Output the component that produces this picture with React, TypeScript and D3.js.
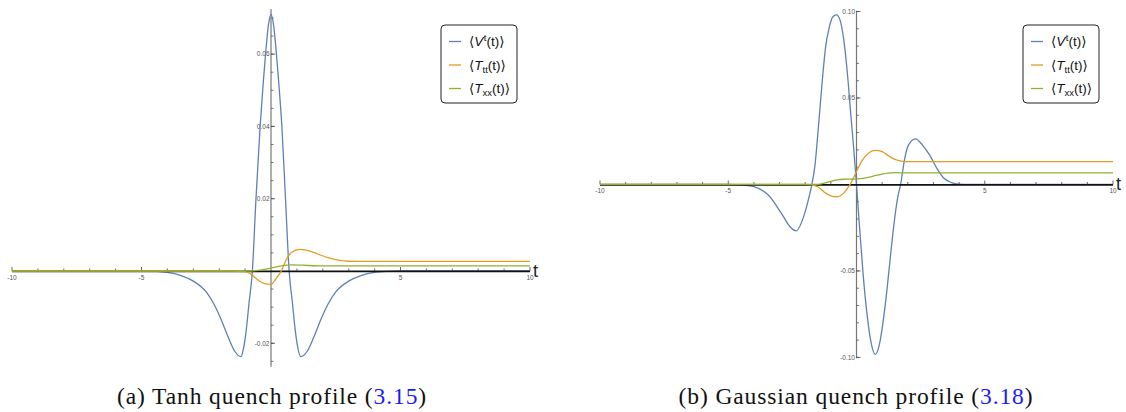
import { useRef, useEffect } from "react"
import * as d3 from "d3"

// (a) tanh quench, values as [t, value]
const tanhV = [
  [-10, 0], [-5, 0], [-4.5, -0.0001], [-4, -0.0004], [-3.5, -0.0012], [-3, -0.0028],
  [-2.5, -0.0058], [-2.2, -0.0092], [-1.95, -0.013], [-1.67, -0.018], [-1.4, -0.0222],
  [-1.17, -0.0237], [-1.05, -0.021], [-0.95, -0.016], [-0.85, -0.009], [-0.72, 0],
  [-0.58, 0.02], [-0.42, 0.04], [-0.3, 0.052], [-0.21, 0.06], [-0.1, 0.068], [0, 0.071],
  [0.1, 0.068], [0.21, 0.06], [0.3, 0.052], [0.42, 0.04], [0.56, 0.02], [0.7, 0],
  [0.83, -0.009], [0.93, -0.016], [1.03, -0.021], [1.15, -0.0237], [1.4, -0.0222],
  [1.67, -0.018], [1.95, -0.013], [2.2, -0.0092], [2.5, -0.0058], [3, -0.0028],
  [3.5, -0.0012], [4, -0.0004], [4.5, -0.0001], [5, 0], [10, 0],
]
const tanhTtt = [
  [-10, 0], [-1.5, 0], [-1, -0.0002], [-0.75, -0.001], [-0.5, -0.0025], [-0.25, -0.0035],
  [0, -0.0037], [0.2, -0.002], [0.4, 0], [0.6, 0.0033], [0.8, 0.0052], [1.1, 0.006],
  [1.4, 0.0057], [1.8, 0.0047], [2.2, 0.0037], [2.6, 0.003], [3, 0.0027], [3.5, 0.00265],
  [10, 0.00265],
]
const tanhTxx = [
  [-10, 0], [-1, 0], [-0.5, 0.0002], [0, 0.0008], [0.4, 0.0014], [0.8, 0.0017],
  [1.2, 0.0016], [2, 0.0014], [10, 0.0014],
]

// (b) gaussian quench
const gaussV = [
  [-10, 0], [-5, 0], [-4.5, -0.0002], [-4, -0.0013], [-3.45, -0.006], [-2.89, -0.0176],
  [-2.6, -0.0243], [-2.35, -0.0268], [-2.04, -0.0176], [-1.83, -0.006], [-1.74, 0],
  [-1.62, 0.011], [-1.48, 0.034], [-1.34, 0.059], [-1.2, 0.08], [-1.06, 0.091],
  [-0.92, 0.097], [-0.78, 0.098], [-0.64, 0.095], [-0.5, 0.084], [-0.36, 0.065],
  [-0.22, 0.04], [-0.11, 0.021], [0, 0], [0.13, -0.027], [0.27, -0.054], [0.41, -0.075],
  [0.55, -0.09], [0.73, -0.0983], [0.9, -0.092], [1.04, -0.079], [1.18, -0.062],
  [1.32, -0.042], [1.46, -0.023], [1.6, -0.008], [1.72, 0], [1.88, 0.015], [2.02, 0.0226],
  [2.3, 0.0264], [2.58, 0.0226], [2.86, 0.0168], [3.14, 0.0092], [3.42, 0.0034],
  [3.7, 0.0011], [3.98, 0.0002], [4.5, 0], [10, 0],
]
const gaussTtt = [
  [-10, 0], [-2, 0], [-1.75, -0.0002], [-1.5, -0.0015], [-1.25, -0.0045], [-1, -0.0066],
  [-0.76, -0.0071], [-0.5, -0.005], [-0.25, 0], [0, 0.0075], [0.25, 0.0145], [0.5, 0.0185],
  [0.73, 0.0197], [1, 0.019], [1.25, 0.0165], [1.5, 0.0145], [1.75, 0.0135], [2, 0.0132],
  [10, 0.0132],
]
const gaussTxx = [
  [-10, 0], [-1.75, 0], [-1.5, 0.0001], [-1.25, 0.0008], [-1, 0.0018], [-0.75, 0.0026],
  [-0.5, 0.003], [-0.25, 0.0031], [0, 0.0032], [0.25, 0.0035], [0.5, 0.0042],
  [0.75, 0.0052], [1, 0.006], [1.25, 0.0066], [1.5, 0.0068], [2, 0.0067], [10, 0.0067],
]

const xTicks = [-10, -5, 5, 10]
const tanhYTicks = [-0.02, 0.02, 0.04, 0.06]
const tanhYLabels = ["-0.02", "0.02", "0.04", "0.06"]
const gaussYTicks = [-0.1, -0.05, 0.05, 0.1]
const gaussYLabels = ["-0.10", "-0.05", "0.05", "0.10"]

const colors = ["#5E81B5", "#E19C24", "#8FB032"]

function Panel({ g, series, xRange, yDomain, yRange, yAxisEnds, yTicks, yLabels, yMinor, legendX }) {
  const x = d3.scaleLinear().domain([-10, 10]).range(xRange)
  const y = d3.scaleLinear().domain(yDomain).range(yRange)
  const y0 = y(0)
  const x0 = x(0)
  const line = d3.line().x(d => x(d[0])).y(d => y(d[1])).curve(d3.curveMonotoneX)
  const drawCurve = i => g.append("path").attr("d", line(series[i]))
    .attr("fill", "none").attr("stroke", colors[i]).attr("stroke-width", 1.3)

  // y axis
  g.append("line").attr("x1", x0).attr("x2", x0)
    .attr("y1", y(yAxisEnds[0])).attr("y2", y(yAxisEnds[1]))
    .attr("stroke", "#777").attr("stroke-width", 1.2)
  const minor = d3.range(Math.ceil(yAxisEnds[0] / yMinor), Math.floor(yAxisEnds[1] / yMinor) + 1).map(k => k * yMinor)
  g.selectAll(null).data(minor.filter(v => Math.abs(v) > 1e-9)).enter().append("line")
    .attr("x1", x0).attr("x2", x0 + 2.5)
    .attr("y1", d => y(d)).attr("y2", d => y(d))
    .attr("stroke", "#555").attr("stroke-width", 0.8)
  g.selectAll(null).data(yTicks).enter().append("line")
    .attr("x1", x0).attr("x2", x0 + 4)
    .attr("y1", d => y(d)).attr("y2", d => y(d))
    .attr("stroke", "#444").attr("stroke-width", 0.8)
  g.selectAll(null).data(yTicks).enter().append("text")
    .attr("x", x0 - 1.5).attr("y", d => y(d) + 2.3)
    .attr("text-anchor", "end")
    .style("font", "6.5px 'Liberation Sans', sans-serif").style("fill", "#555")
    .text((d, i) => yLabels[i])

  // blue under the x axis, the others on top of it
  drawCurve(0)

  // x axis
  g.append("line").attr("x1", x(-10)).attr("x2", x(10))
    .attr("y1", y0 + 0.4).attr("y2", y0 + 0.4)
    .attr("stroke", "#111").attr("stroke-width", 1.8)
  g.selectAll(null).data(d3.range(-10, 11).filter(v => v !== 0)).enter().append("line")
    .attr("x1", d => x(d)).attr("x2", d => x(d))
    .attr("y1", y0).attr("y2", d => y0 - (d % 5 === 0 ? 4 : 2.5))
    .attr("stroke", "#444").attr("stroke-width", 0.8)
  g.selectAll(null).data(xTicks).enter().append("text")
    .attr("x", d => x(d)).attr("y", y0 + 9)
    .attr("text-anchor", "middle")
    .style("font", "6.5px 'Liberation Sans', sans-serif").style("fill", "#555")
    .text(d => d)
  g.append("text").attr("x", x(10) + 3).attr("y", y0 + 6)
    .style("font", "18px 'Liberation Sans', sans-serif").style("fill", "#222")
    .text("t")

  drawCurve(1)
  drawCurve(2)

  // legend
  const lg = g.append("g").attr("transform", `translate(${legendX}, 25)`)
  lg.append("rect").attr("width", 76).attr("height", 78).attr("rx", 4)
    .attr("fill", "white").attr("stroke", "#222").attr("stroke-width", 1)
  const entries = [["V", "t", -5.5], ["T", "tt", 3], ["T", "xx", 3]]
  entries.forEach((e, i) => {
    const yy = 16.5 + i * 23.5
    lg.append("line").attr("x1", 8).attr("x2", 20).attr("y1", yy).attr("y2", yy)
      .attr("stroke", colors[i]).attr("stroke-width", 1.3)
    const t = lg.append("text").attr("x", 28).attr("y", yy + 4.8)
      .style("font", "13.5px 'Liberation Sans', 'DejaVu Sans', sans-serif").style("fill", "#111")
    t.append("tspan").text("\u27E8")
    t.append("tspan").style("font-style", "italic").text(e[0])
    t.append("tspan").attr("dx", i === 0 ? 0.5 : 0).attr("dy", e[2]).style("font-size", "9.5px").text(e[1])
    t.append("tspan").attr("dy", -e[2]).text("(t)\u27E9")
  })
}

export default function App() {
  const svgRef = useRef()
  useEffect(() => {
    const svg = d3.select(svgRef.current)
    svg.selectAll("*").remove()
    svg.attr("width", 1126).attr("height", 412).style("background", "white")

    Panel({
      g: svg.append("g"), series: [tanhV, tanhTtt, tanhTxx],
      xRange: [12, 530], yDomain: [-0.02, 0.06], yRange: [343.3, 54.1],
      yAxisEnds: [-0.0265, 0.0725], yTicks: tanhYTicks, yLabels: tanhYLabels, yMinor: 0.005,
      legendX: 441,
    })
    Panel({
      g: svg.append("g"), series: [gaussV, gaussTtt, gaussTxx],
      xRange: [600, 1113], yDomain: [-0.1, 0.1], yRange: [357.4, 11.5],
      yAxisEnds: [-0.1005, 0.1005], yTicks: gaussYTicks, yLabels: gaussYLabels, yMinor: 0.01,
      legendX: 1023,
    })

    const captions = [[272, "(a) Tanh quench profile (", "3.15"], [856, "(b) Gaussian quench profile (", "3.18"]]
    captions.forEach(c => {
      const t = svg.append("text").attr("x", c[0]).attr("y", 404).attr("text-anchor", "middle")
        .style("font", "23.5px 'Liberation Serif', serif").style("fill", "#111")
        .style("letter-spacing", "0.9px")
      t.append("tspan").text(c[1])
      t.append("tspan").style("fill", "#1a1aff").text(c[2])
      t.append("tspan").text(")")
    })
  }, [])
  return (
    <div style={{ position: "absolute", left: 0, top: 0 }}>
      <svg ref={svgRef}></svg>
    </div>
  )
}
